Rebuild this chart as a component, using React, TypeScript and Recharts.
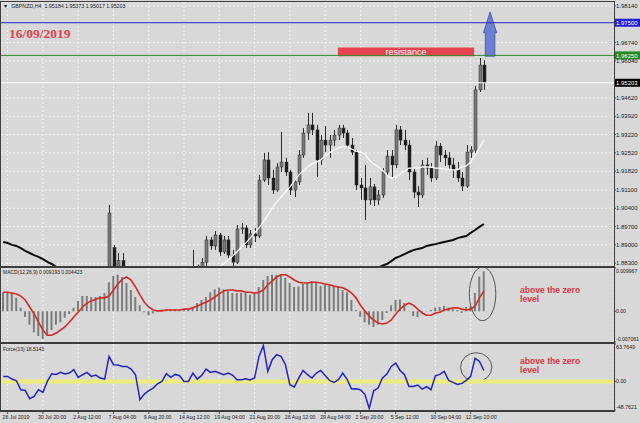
import React from "react";
import {
  ComposedChart,
  Bar,
  Line,
  XAxis,
  YAxis,
  CartesianGrid,
  ReferenceLine,
  ReferenceArea,
} from "recharts";

// GBPNZD H4, one point = two H4 bars, [open, high, low, close]
const candles: [number, number, number, number][] = [
  [1.8740, 1.8760, 1.8705, 1.8720], [1.8720, 1.8735, 1.8690, 1.8700], [1.8700, 1.8712, 1.8650, 1.8660],
  [1.8660, 1.8675, 1.8610, 1.8620], [1.8620, 1.8630, 1.8570, 1.8580], [1.8580, 1.8590, 1.8510, 1.8520],
  [1.8520, 1.8535, 1.8450, 1.8460], [1.8460, 1.8480, 1.8405, 1.8420], [1.8420, 1.8430, 1.8365, 1.8380],
  [1.8380, 1.8415, 1.8370, 1.8400], [1.8400, 1.8460, 1.8390, 1.8450], [1.8450, 1.8465, 1.8420, 1.8430],
  [1.8430, 1.8490, 1.8425, 1.8480], [1.8480, 1.8530, 1.8470, 1.8520], [1.8520, 1.8530, 1.8490, 1.8500],
  [1.8500, 1.8560, 1.8495, 1.8550], [1.8550, 1.8585, 1.8540, 1.8570], [1.8570, 1.8580, 1.8545, 1.8560],
  [1.8560, 1.8590, 1.8550, 1.8580], [1.8580, 1.8610, 1.8570, 1.8600], [1.8600, 1.8605, 1.8560, 1.8570],
  [1.8570, 1.8600, 1.8565, 1.8590], [1.8590, 1.8625, 1.8580, 1.8620], [1.8620, 1.8650, 1.8610, 1.8640],
  [1.8640, 1.9053, 1.8630, 1.9022], [1.8890, 1.8900, 1.8760, 1.8800], [1.8800, 1.8869, 1.8770, 1.8840],
  [1.8840, 1.8869, 1.8770, 1.8790], [1.8790, 1.8800, 1.8740, 1.8750], [1.8750, 1.8760, 1.8700, 1.8710],
  [1.8710, 1.8720, 1.8670, 1.8680], [1.8680, 1.8690, 1.8650, 1.8660], [1.8660, 1.8690, 1.8655, 1.8680],
  [1.8680, 1.8710, 1.8670, 1.8700], [1.8700, 1.8705, 1.8665, 1.8670], [1.8670, 1.8680, 1.8640, 1.8650],
  [1.8650, 1.8690, 1.8645, 1.8680], [1.8680, 1.8710, 1.8675, 1.8700], [1.8700, 1.8730, 1.8690, 1.8720],
  [1.8720, 1.8725, 1.8700, 1.8710], [1.8710, 1.8740, 1.8705, 1.8730], [1.8730, 1.8760, 1.8720, 1.8750],
  [1.8750, 1.8775, 1.8740, 1.8765], [1.8765, 1.8881, 1.8760, 1.8800], [1.8800, 1.8825, 1.8785, 1.8810],
  [1.8810, 1.8850, 1.8796, 1.8834], [1.8834, 1.8934, 1.8819, 1.8919], [1.8919, 1.8930, 1.8881, 1.8896],
  [1.8896, 1.8953, 1.8881, 1.8938], [1.8938, 1.8946, 1.8858, 1.8873], [1.8873, 1.8934, 1.8865, 1.8919],
  [1.8919, 1.8934, 1.8850, 1.8861], [1.8861, 1.8881, 1.8819, 1.8834], [1.8834, 1.8976, 1.8827, 1.8961],
  [1.8961, 1.8984, 1.8942, 1.8965], [1.8965, 1.8976, 1.8888, 1.8900], [1.8900, 1.8957, 1.8888, 1.8942],
  [1.8942, 1.8965, 1.8911, 1.8934], [1.8934, 1.9167, 1.8926, 1.9148], [1.9148, 1.9252, 1.9141, 1.9225],
  [1.9225, 1.9255, 1.9129, 1.9156], [1.9156, 1.9187, 1.9095, 1.9110], [1.9110, 1.9213, 1.9103, 1.9198],
  [1.9198, 1.9332, 1.9179, 1.9217], [1.9217, 1.9233, 1.9164, 1.9179], [1.9179, 1.9187, 1.9091, 1.9110],
  [1.9110, 1.9148, 1.9083, 1.9141], [1.9141, 1.9263, 1.9129, 1.9244], [1.9244, 1.9347, 1.9233, 1.9328],
  [1.9328, 1.9405, 1.9301, 1.9359], [1.9359, 1.9405, 1.9320, 1.9340], [1.9340, 1.9359, 1.9160, 1.9225],
  [1.9225, 1.9320, 1.9206, 1.9301], [1.9301, 1.9355, 1.9255, 1.9282], [1.9282, 1.9320, 1.9233, 1.9301],
  [1.9301, 1.9340, 1.9278, 1.9320], [1.9320, 1.9359, 1.9301, 1.9347], [1.9347, 1.9359, 1.9309, 1.9328],
  [1.9328, 1.9340, 1.9271, 1.9282], [1.9282, 1.9309, 1.9244, 1.9255], [1.9255, 1.9263, 1.9110, 1.9129],
  [1.9129, 1.9156, 1.9072, 1.9118], [1.9118, 1.9206, 1.8995, 1.9072], [1.9072, 1.9156, 1.9053, 1.9122],
  [1.9122, 1.9133, 1.9049, 1.9072], [1.9072, 1.9110, 1.9053, 1.9091], [1.9091, 1.9194, 1.9080, 1.9179],
  [1.9179, 1.9263, 1.9168, 1.9240], [1.9240, 1.9263, 1.9156, 1.9206], [1.9206, 1.9359, 1.9194, 1.9340],
  [1.9340, 1.9355, 1.9282, 1.9301], [1.9301, 1.9340, 1.9263, 1.9282], [1.9282, 1.9301, 1.9148, 1.9179],
  [1.9179, 1.9194, 1.9079, 1.9102], [1.9102, 1.9125, 1.9045, 1.9091], [1.9091, 1.9225, 1.9079, 1.9206],
  [1.9206, 1.9233, 1.9168, 1.9194], [1.9194, 1.9213, 1.9141, 1.9156], [1.9156, 1.9297, 1.9148, 1.9278],
  [1.9278, 1.9290, 1.9217, 1.9244], [1.9244, 1.9263, 1.9202, 1.9233], [1.9233, 1.9255, 1.9187, 1.9206],
  [1.9206, 1.9233, 1.9156, 1.9187], [1.9187, 1.9217, 1.9141, 1.9156], [1.9156, 1.9179, 1.9106, 1.9125],
  [1.9125, 1.9282, 1.9118, 1.9255], [1.9255, 1.9278, 1.9233, 1.9263], [1.9263, 1.9508, 1.9252, 1.9493],
  [1.9493, 1.9615, 1.9485, 1.9588], [1.9588, 1.9607, 1.9493, 1.9520],
];

// white moving average
const fastMa: (number | null)[] = [
  null, null, null, null, null, null, null, null, null, null,
  null, null, null, null, null, null, null, null, null, null,
  null, null, null, null, null, null, null, null, null, null,
  null, null, null, null, null, null, null, null, null, null,
  null, null, null, null, null, null, 1.8770, 1.8785, 1.8800, 1.8815,
  1.8827, 1.8842, 1.8857, 1.8873, 1.8892, 1.8907, 1.8926, 1.8946, 1.8965, 1.8988,
  1.9014, 1.9041, 1.9064, 1.9083, 1.9102, 1.9121, 1.9144, 1.9167, 1.9183, 1.9198,
  1.9210, 1.9217, 1.9225, 1.9240, 1.9252, 1.9263, 1.9271, 1.9275, 1.9275, 1.9267,
  1.9259, 1.9255, 1.9248, 1.9225, 1.9210, 1.9198, 1.9187, 1.9167, 1.9156, 1.9160,
  1.9171, 1.9183, 1.9194, 1.9194, 1.9194, 1.9198, 1.9198, 1.9198, 1.9194, 1.9194,
  1.9190, 1.9190, 1.9187, 1.9187, 1.9198, 1.9202, 1.9217, 1.9244, 1.9271, 1.9301,
];

// black long moving average (only the visible stretches)
const slowMa: (number | null)[] = [
  1.8911, 1.8907, 1.8900, 1.8896, 1.8888, 1.8877, 1.8869, 1.8861, 1.8854, 1.8846,
  1.8835, 1.8827, 1.8816, null, null, null, null, null, null, null,
  null, null, null, null, null, null, null, null, null, null,
  null, null, null, null, null, null, null, null, null, null,
  null, null, null, null, null, null, null, null, null, null,
  null, null, null, null, null, null, null, null, null, null,
  null, null, null, null, null, null, null, null, null, null,
  null, null, null, null, null, null, null, null, null, null,
  null, null, null, null, null, 1.8812, 1.8821, 1.8827, 1.8838, 1.8850,
  1.8857, 1.8865, 1.8873, 1.8880, 1.8884, 1.8888, 1.8896, 1.8900, 1.8903, 1.8907,
  1.8911, 1.8915, 1.8919, 1.8926, 1.8930, 1.8934, 1.8946, 1.8957, 1.8969, 1.8980,
];

const macdHist = [
  0.0044, 0.0045, 0.0043, 0.0031, 0.0008, -0.0013, -0.0031, -0.0048, -0.0057, -0.0063,
  -0.0055, -0.0043, -0.0031, -0.0025, -0.0015, -0.0006, 0.0008, 0.0024, 0.0035, 0.0035,
  0.0033, 0.0033, 0.0035, 0.0042, 0.0067, 0.0081, 0.0084, 0.0079, 0.0065, 0.0049,
  0.0033, 0.0014, -0.0002, -0.0009, -0.0005, 0.0003, 0.0004, 0.0005, 0.0005, 0.0004,
  0.0004, 0.0004, 0.0006, 0.0010, 0.0019, 0.0026, 0.0033, 0.0044, 0.0051, 0.0054,
  0.0051, 0.0047, 0.0042, 0.0042, 0.0043, 0.0042, 0.0038, 0.0040, 0.0056, 0.0072,
  0.0081, 0.0084, 0.0084, 0.0084, 0.0077, 0.0065, 0.0056, 0.0057, 0.0063, 0.0067,
  0.0070, 0.0065, 0.0058, 0.0061, 0.0061, 0.0058, 0.0056, 0.0049, 0.0044, 0.0026,
  0.0003, -0.0013, -0.0025, -0.0031, -0.0036, -0.0031, -0.0020, -0.0004, 0.0014, 0.0026,
  0.0027, 0.0019, 0.0001, -0.0011, -0.0013, -0.0004, 0.0001, 0.0003, 0.0008, 0.0010,
  0.0012, 0.0009, 0.0005, 0.0003, -0.0004, 0.0010, 0.0012, 0.0042, 0.0080, 0.0092,
];

const macdSignal = [
  0.0044, 0.0044, 0.0042, 0.0040, 0.0035, 0.0026, 0.0010, -0.0006, -0.0025, -0.0043,
  -0.0055, -0.0055, -0.0050, -0.0043, -0.0036, -0.0025, -0.0013, -0.0002, 0.0010, 0.0019,
  0.0024, 0.0028, 0.0031, 0.0031, 0.0035, 0.0049, 0.0063, 0.0074, 0.0079, 0.0072,
  0.0056, 0.0038, 0.0021, 0.0010, 0.0003, 0.0001, 0.0001, 0.0003, 0.0003, 0.0003,
  0.0003, 0.0005, 0.0005, 0.0008, 0.0012, 0.0017, 0.0021, 0.0026, 0.0033, 0.0040,
  0.0047, 0.0049, 0.0049, 0.0047, 0.0047, 0.0044, 0.0044, 0.0042, 0.0044, 0.0049,
  0.0061, 0.0070, 0.0079, 0.0084, 0.0084, 0.0079, 0.0072, 0.0067, 0.0065, 0.0065,
  0.0067, 0.0067, 0.0065, 0.0063, 0.0061, 0.0058, 0.0056, 0.0054, 0.0049, 0.0042,
  0.0031, 0.0014, 0.0001, -0.0011, -0.0020, -0.0027, -0.0029, -0.0027, -0.0020, -0.0006,
  0.0005, 0.0014, 0.0019, 0.0014, 0.0005, -0.0004, -0.0009, -0.0009, -0.0004, -0.0002,
  0.0003, 0.0005, 0.0008, 0.0008, 0.0005, 0.0003, 0.0005, 0.0012, 0.0031, 0.0047,
];

const forceIndex = [
  8.5, 8.5, 4.0, 1.1, -14.2, -15.4, -29.6, -25.6, -14.2, -18.7,
  0, 13.1, 11.9, 15.4, 12.5, 14.2, 19.9, 6.8, 11.4, 15.4,
  8.5, 10.8, 5.7, 4.0, 42.6, 28.5, 27.9, 25.6, 25.6, 21.0,
  11.4, -31.2, -21.6, -15.9, -11.4, -4.0, 0, 13.1, 6.8, 11.9,
  9.6, 0, 0, 14.2, 4.0, 10.2, 21.0, 15.4, 17.1, 14.2,
  11.4, 14.2, 10.8, 2.9, 2.9, 4.6, 2.3, 5.7, 42.6, 61.0,
  17.1, 37.0, 45.5, 42.6, 28.5, -5.7, -9.6, 5.7, 18.7, 11.4,
  5.7, 14.2, 18.7, 10.2, 1.7, -1.7, 2.9, 14.2, 2.9, -13.1,
  -12.5, -14.2, -22.0, -46.0, -16.0, -11.4, 5.7, 12.5, 25.6, 31.2,
  18.7, 11.4, -8.5, -8.5, -6.2, -13.1, -9.1, -14.2, 9.6, 11.9,
  17.1, 1.7, -1.7, -5.2, -3.4, 1.7, 8.5, 39.3, 34.1, 18.5,
];

const timeTicks = [1, 9, 17, 25, 33, 41, 49, 57, 65, 73, 81, 89, 98, 106];
const timeLabels = [
  "26 Jul 2019", "30 Jul 20:00", "2 Aug 12:00", "7 Aug 04:00", "9 Aug 20:00", "14 Aug 12:00", "19 Aug 04:00",
  "21 Aug 20:00", "26 Aug 12:00", "29 Aug 04:00", "2 Sep 20:00", "5 Sep 12:00", "10 Sep 04:00", "12 Sep 20:00",
];
const priceTicks = [1.9814, 1.9674, 1.9604, 1.9462, 1.9392, 1.9322, 1.9252, 1.9182, 1.911, 1.904, 1.897, 1.89, 1.883];
const macdTicks = [0.009967, 0, -0.007061];
const forceTicks = [63.7649, 0, -48.7621];

const rows = candles.map((c, i) => ({
  i,
  open: c[0],
  high: c[1],
  low: c[2],
  close: c[3],
  fast: fastMa[i],
  slow: slowMa[i],
  macd: macdHist[i],
  signal: macdSignal[i],
  force: forceIndex[i],
}));

const X_DOMAIN: [number, number] = [-0.5, 138.5];
const FONT = '"Liberation Sans", Arial, sans-serif';
const GRID = "#f2f2f2";
const FRAME = "#3c3c3c";

const Candle = (props: any) => {
  const { x, width, payload } = props;
  let { y, height } = props;
  if (height < 0) {
    y += height;
    height = -height;
  }
  const { open, high, low, close } = payload;
  const k = high > low ? height / (high - low) : 0;
  const yO = y + (high - open) * k;
  const yC = y + (high - close) * k;
  const cx = Math.round(x + width / 2) + 0.5;
  const top = Math.min(yO, yC);
  const h = Math.max(1, Math.abs(yO - yC));
  const up = close >= open;
  return (
    <g>
      <line x1={cx} x2={cx} y1={y} y2={y + height} stroke="#2a2a2a" strokeWidth={1} />
      <rect x={cx - 1.5} y={top} width={3} height={h} fill={up ? "#7a7a7a" : "#1c1c1c"} stroke="#2a2a2a" strokeWidth={0.5} />
    </g>
  );
};

const SideTick = (props: any) => {
  const { x, y, payload, fmt, first, last, size = 6 } = props;
  const v = payload.value;
  let dy = 2;
  if (first !== undefined && v === first) dy = 4.5;
  if (last !== undefined && v === last) dy = -1;
  return (
    <g>
      <line x1={x} x2={x + 2} y1={y} y2={y} stroke="#555" />
      <text x={x + 2} y={y + dy} fontSize={size} fill="#1a1a1a" fontFamily={FONT}>
        {fmt(v)}
      </text>
    </g>
  );
};

const TimeTick = (props: any) => {
  const { x, y, payload } = props;
  const label = timeLabels[timeTicks.indexOf(payload.value)];
  return (
    <g>
      <line x1={x} x2={x} y1={y + 1} y2={y + 4} stroke="#555" />
      <text x={x - 5} y={y + 9} fontSize={5.2} fill="#1a1a1a" fontFamily={FONT}>
        {label}
      </text>
    </g>
  );
};

const PriceTag = (props: any) => {
  const { viewBox, text, bg } = props;
  if (!viewBox) return null;
  const x = viewBox.x + viewBox.width;
  const y = viewBox.y;
  return (
    <g>
      <rect x={x} y={y - 4} width={26} height={8} fill={bg} />
      <text x={x + 2} y={y + 2.2} fontSize={6} fill="#ffffff" fontFamily={FONT}>
        {text}
      </text>
    </g>
  );
};

const AreaText = (props: any) => {
  const { viewBox, text } = props;
  if (!viewBox) return null;
  return (
    <text
      x={viewBox.x + viewBox.width / 2}
      y={viewBox.y + viewBox.height / 2 + 3}
      textAnchor="middle"
      fontSize={9}
      fill="#ffffff"
      fontFamily={FONT}
    >
      {text}
    </text>
  );
};

const ArrowUp = (props: any) => {
  let { x, y, width, height } = props;
  if (height < 0) {
    y += height;
    height = -height;
  }
  const cx = x + width / 2;
  const sw = width * 0.36;
  const hy = y + height * 0.47;
  const pts = [
    [cx, y], [x + width, hy], [cx + sw, hy], [cx + sw, y + height],
    [cx - sw, y + height], [cx - sw, hy], [x, hy],
  ].map((p) => p.join(",")).join(" ");
  return <polygon points={pts} fill="#6b7fd4" stroke="#3d4c9c" strokeWidth={0.8} />;
};

const Ring = (props: any) => {
  let { x, y, width, height } = props;
  if (height < 0) {
    y += height;
    height = -height;
  }
  return (
    <ellipse cx={x + width / 2} cy={y + height / 2} rx={width / 2} ry={height / 2} fill="none" stroke="#333" strokeWidth={0.8} />
  );
};

const abs = (l: number, t: number): React.CSSProperties => ({ position: "absolute", left: l, top: t });

const subFmt = (v: number) => (v === 0 ? "0.00" : String(v));

export default function App() {
  return (
    <div style={{ position: "absolute", left: 0, top: 0, width: 640, height: 423, background: "#d8d8d8", overflow: "hidden" }}>
      {/* main price window */}
      <div style={abs(0, 0)}>
        <ComposedChart width={640} height={268} data={rows} margin={{ top: 2, right: 0, bottom: 2, left: 1 }}>
          <CartesianGrid stroke={GRID} strokeDasharray="2 2" />
          <XAxis type="number" dataKey="i" domain={X_DOMAIN} ticks={timeTicks} hide />
          <YAxis
            orientation="right"
            width={26}
            domain={[1.88193, 1.98293]}
            allowDataOverflow
            ticks={priceTicks}
            interval={0}
            axisLine={false}
            tickLine={false}
            tickSize={0}
            tickMargin={0}
            tick={(p: any) => <SideTick {...p} fmt={(v: number) => v.toFixed(5)} />}
          />
          <ReferenceLine y={1.975} stroke="#2626cc" label={<PriceTag text="1.97500" bg="#1e1ed6" />} />
          <ReferenceLine y={1.9625} stroke="#2f8a2f" label={<PriceTag text="1.96250" bg="#228b22" />} />
          <ReferenceLine y={1.95203} stroke="#ffffff" label={<PriceTag text="1.95203" bg="#000000" />} />
          <ReferenceArea
            x1={75.9}
            x2={106.8}
            y1={1.9622}
            y2={1.9655}
            fill="#e6434f"
            fillOpacity={1}
            stroke="none"
            label={<AreaText text="resistance" />}
          />
          <Bar
            dataKey={(d: any) => [d.low, d.high]}
            barSize={3}
            shape={(p: any) => <Candle {...p} />}
            isAnimationActive={false}
          />
          <Line dataKey="fast" stroke="#fbfbfb" strokeWidth={1.3} dot={false} isAnimationActive={false} />
          <Line dataKey="slow" stroke="#0c0c0c" strokeWidth={2} dot={false} isAnimationActive={false} />
          <ReferenceArea
            x1={108.9}
            x2={111.9}
            y1={1.9622}
            y2={1.9791}
            ifOverflow="visible"
            shape={(p: any) => <ArrowUp {...p} />}
          />
        </ComposedChart>
      </div>

      {/* MACD window */}
      <div style={abs(0, 266)}>
        <ComposedChart width={640} height={77} data={rows} margin={{ top: 2, right: 0, bottom: 1, left: 1 }}>
          <CartesianGrid stroke={GRID} strokeDasharray="2 2" horizontal={false} />
          <XAxis type="number" dataKey="i" domain={X_DOMAIN} ticks={timeTicks} hide />
          <YAxis
            orientation="right"
            width={26}
            domain={[-0.007061, 0.009967]}
            allowDataOverflow
            ticks={macdTicks}
            interval={0}
            axisLine={false}
            tickLine={false}
            tickSize={0}
            tickMargin={0}
            tick={(p: any) => <SideTick {...p} size={5.1} first={0.009967} last={-0.007061} fmt={subFmt} />}
          />
          <Bar dataKey="macd" barSize={2} fill="#7c7c7c" isAnimationActive={false} />
          <Line dataKey="signal" stroke="#d42a2a" strokeWidth={1.6} dot={false} isAnimationActive={false} />
          <ReferenceArea
            x1={105.7}
            x2={111.7}
            y1={-0.00216}
            y2={0.0102}
            ifOverflow="visible"
            shape={(p: any) => <Ring {...p} />}
          />
        </ComposedChart>
      </div>

      {/* Force index window */}
      <div style={abs(0, 342)}>
        <ComposedChart width={640} height={81} data={rows} margin={{ top: 2, right: 0, bottom: 0, left: 1 }}>
          <CartesianGrid stroke={GRID} strokeDasharray="2 2" horizontal={false} />
          <XAxis
            type="number"
            dataKey="i"
            domain={X_DOMAIN}
            ticks={timeTicks}
            interval={0}
            height={13}
            axisLine={false}
            tickLine={false}
            tickSize={0}
            tickMargin={0}
            tick={(p: any) => <TimeTick {...p} />}
          />
          <YAxis
            orientation="right"
            width={26}
            domain={[-48.7621, 63.7649]}
            allowDataOverflow
            ticks={forceTicks}
            interval={0}
            axisLine={false}
            tickLine={false}
            tickSize={0}
            tickMargin={0}
            tick={(p: any) => <SideTick {...p} size={5.3} first={63.7649} last={-48.7621} fmt={subFmt} />}
          />
          <ReferenceLine y={0} stroke="#ecec7a" strokeWidth={4} />
          <Line dataKey="force" stroke="#2323c4" strokeWidth={1.5} dot={false} isAnimationActive={false} />
          <ReferenceArea
            x1={103.7}
            x2={110.8}
            y1={-0.5}
            y2={48.9}
            ifOverflow="visible"
            shape={(p: any) => <Ring {...p} />}
          />
        </ComposedChart>
      </div>

      {/* window frames */}
      <div style={{ ...abs(0, 1), width: 615, height: 1, background: FRAME }} />
      <div style={{ ...abs(0, 1), width: 1, height: 411, background: FRAME }} />
      <div style={{ ...abs(614, 1), width: 1, height: 411, background: FRAME }} />
      <div style={{ ...abs(0, 266), width: 615, height: 2, background: FRAME }} />
      <div style={{ ...abs(0, 342), width: 615, height: 2, background: FRAME }} />
      <div style={{ ...abs(0, 410), width: 615, height: 2, background: FRAME }} />

      {/* texts */}
      <div style={{ ...abs(3, 3), fontFamily: FONT, fontSize: 5.3, lineHeight: "6px", color: "#1a1a1a", whiteSpace: "pre" }}>
        {"▼  GBPNZD,H4  1.95184 1.95373 1.95017 1.95203"}
      </div>
      <div style={{ ...abs(9, 27), fontFamily: '"Liberation Serif", serif', fontWeight: 700, fontSize: 13.5, lineHeight: "14px", color: "#e3434f" }}>
        16/09/2019
      </div>
      <div style={{ ...abs(3, 268.5), fontFamily: FONT, fontSize: 5, lineHeight: "6px", color: "#1a1a1a", whiteSpace: "pre" }}>
        {"MACD(12,26,9) 0.009193 0.004423"}
      </div>
      <div style={{ ...abs(3, 345.5), fontFamily: FONT, fontSize: 5, lineHeight: "6px", color: "#1a1a1a", whiteSpace: "pre" }}>
        {"Force(13) 18.5143"}
      </div>
      <div style={{ ...abs(520, 286), fontFamily: FONT, fontWeight: 700, fontSize: 8.6, lineHeight: "9px", color: "#e3343f" }}>
        above the zero
        <br />
        level
      </div>
      <div style={{ ...abs(520, 357), fontFamily: FONT, fontWeight: 700, fontSize: 8.6, lineHeight: "9px", color: "#e3343f" }}>
        above the zero
        <br />
        level
      </div>
    </div>
  );
}
